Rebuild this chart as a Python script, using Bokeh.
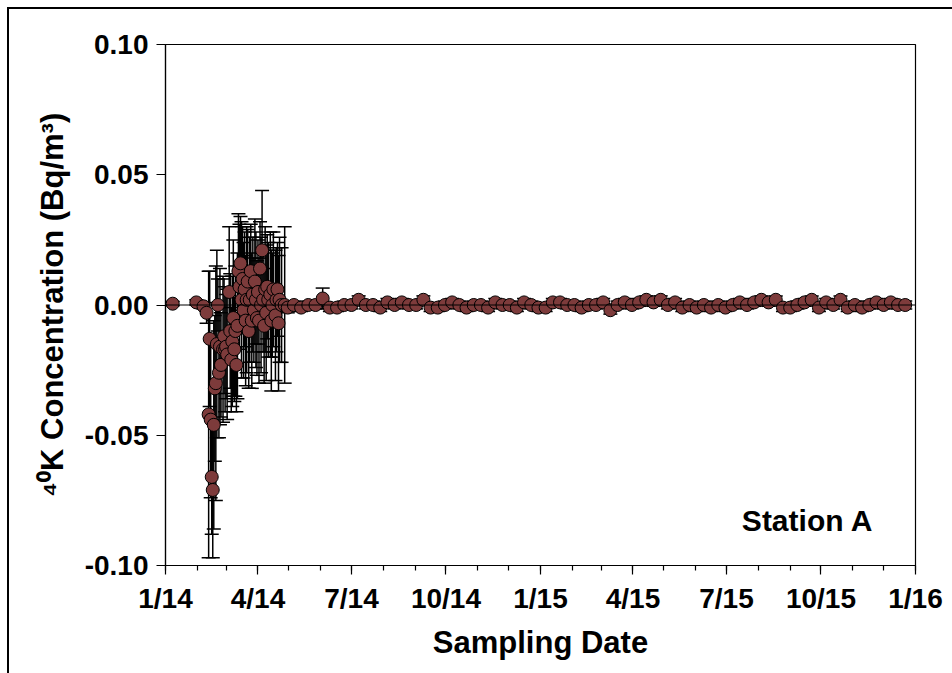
import pandas as pd
from bokeh.plotting import figure
from bokeh.models import (ColumnDataSource, Whisker, TeeHead, Span, Label,
                          FixedTicker, DatetimeTickFormatter, Range1d)
from bokeh.embed import file_html
from bokeh.resources import INLINE

# ---------------- data ----------------
cluster_dates = [
    "2014-01-08", "2014-01-31", "2014-02-07", "2014-02-10", "2014-02-12", "2014-02-13",
    "2014-02-14", "2014-02-15", "2014-02-16", "2014-02-17", "2014-02-18", "2014-02-19",
    "2014-02-20", "2014-02-21", "2014-02-22", "2014-02-23", "2014-02-24", "2014-02-26",
    "2014-02-27", "2014-02-28", "2014-03-01", "2014-03-02", "2014-03-04", "2014-03-05",
    "2014-03-06", "2014-03-07", "2014-03-08", "2014-03-09", "2014-03-10", "2014-03-11",
    "2014-03-12", "2014-03-13", "2014-03-14", "2014-03-15", "2014-03-16", "2014-03-17",
    "2014-03-18", "2014-03-19", "2014-03-20", "2014-03-21", "2014-03-22", "2014-03-23",
    "2014-03-24", "2014-03-25", "2014-03-26", "2014-03-27", "2014-03-28", "2014-03-29",
    "2014-03-30", "2014-03-31", "2014-04-01", "2014-04-02", "2014-04-03", "2014-04-04",
    "2014-04-05", "2014-04-06", "2014-04-07", "2014-04-08", "2014-04-09", "2014-04-10",
    "2014-04-11", "2014-04-13", "2014-04-14", "2014-04-15", "2014-04-16", "2014-04-18",
    "2014-04-19", "2014-04-20", "2014-04-21", "2014-04-22", "2014-04-24", "2014-04-27",
    "2014-04-30",
]
cluster_values = [
    0.0005, 0.001, -0.0005, -0.003, -0.042, -0.013,
    -0.044, -0.066, -0.071, -0.046, -0.032, -0.030,
    -0.015, 0.000, -0.026, -0.016, -0.023, -0.017,
    -0.012, -0.017, -0.016, -0.019, 0.005, -0.010,
    -0.021, -0.014, -0.005, -0.017, -0.010, -0.023,
    -0.008, 0.013, 0.007, 0.016, 0.002, 0.010,
    -0.002, 0.006, -0.006, 0.002, 0.009, -0.010,
    0.002, 0.013, -0.006, 0.004, -0.002, 0.009,
    0.002, -0.005, 0.005, -0.006, 0.014, 0.000,
    0.021, 0.002, -0.008, 0.006, -0.003, 0.007,
    0.002, 0.004, -0.006, 0.000, 0.006, -0.004,
    0.002, 0.006, -0.007, 0.002, 0.000, 0.000,
    -0.001,
]
cluster_errors = [
    0.0008, 0.001, 0.001, 0.004, 0.055, 0.026,
    0.030, 0.022, 0.026, 0.040, 0.028, 0.045,
    0.036, 0.010, 0.025, 0.030, 0.020, 0.028,
    0.022, 0.024, 0.020, 0.025, 0.025, 0.022,
    0.020, 0.025, 0.030, 0.020, 0.025, 0.018,
    0.028, 0.022, 0.024, 0.018, 0.030, 0.020,
    0.026, 0.022, 0.025, 0.028, 0.020, 0.022,
    0.024, 0.018, 0.026, 0.022, 0.020, 0.024,
    0.026, 0.022, 0.020, 0.024, 0.018, 0.026,
    0.023, 0.020, 0.022, 0.024, 0.026, 0.020,
    0.022, 0.024, 0.027, 0.020, 0.022, 0.025,
    0.020, 0.018, 0.026, 0.024, 0.022, 0.030,
    0.002,
]

weekly_dates = [
    "2014-05-06", "2014-05-13", "2014-05-20", "2014-05-27", "2014-06-03", "2014-06-10",
    "2014-06-17", "2014-06-24", "2014-07-01", "2014-07-08", "2014-07-15", "2014-07-22",
    "2014-07-29", "2014-08-05", "2014-08-12", "2014-08-19", "2014-08-26", "2014-09-02",
    "2014-09-09", "2014-09-16", "2014-09-23", "2014-09-30", "2014-10-07", "2014-10-14",
    "2014-10-21", "2014-10-28", "2014-11-04", "2014-11-11", "2014-11-18", "2014-11-25",
    "2014-12-02", "2014-12-09", "2014-12-16", "2014-12-23", "2014-12-30",
    "2015-01-06", "2015-01-13", "2015-01-20", "2015-01-27", "2015-02-03", "2015-02-10",
    "2015-02-17", "2015-02-24", "2015-03-03", "2015-03-10", "2015-03-17", "2015-03-24",
    "2015-03-31", "2015-04-07", "2015-04-14", "2015-04-21", "2015-04-28", "2015-05-05",
    "2015-05-12", "2015-05-19", "2015-05-26", "2015-06-02", "2015-06-09", "2015-06-16",
    "2015-06-23", "2015-06-30", "2015-07-07", "2015-07-14", "2015-07-21", "2015-07-28",
    "2015-08-04", "2015-08-11", "2015-08-18", "2015-08-25", "2015-09-01", "2015-09-08",
    "2015-09-15", "2015-09-22", "2015-09-29", "2015-10-06", "2015-10-13", "2015-10-20",
    "2015-10-27", "2015-11-03", "2015-11-10", "2015-11-17", "2015-11-24", "2015-12-01",
    "2015-12-08", "2015-12-15", "2015-12-22",
]
weekly_values = [
    0.000, -0.001, 0.000, 0.000, 0.0025, -0.001,
    -0.001, 0.000, 0.000, 0.002, 0.000, 0.000,
    -0.001, 0.001, 0.000, 0.001, 0.000, 0.000,
    0.002, -0.001, -0.001, 0.000, 0.001, 0.000,
    -0.001, 0.000, 0.000, -0.001, 0.001, 0.000,
    0.000, -0.001, 0.001, 0.000, -0.001,
    -0.001, 0.001, 0.001, 0.000, 0.000, -0.001,
    0.000, 0.000, 0.001, -0.002, 0.000, 0.001,
    0.000, 0.001, 0.002, 0.001, 0.002, 0.000,
    0.001, -0.001, 0.000, -0.001, 0.000, -0.001,
    0.000, -0.001, 0.000, 0.001, 0.000, 0.001,
    0.002, 0.001, 0.002, -0.001, -0.001, 0.000,
    0.001, 0.002, -0.001, 0.001, 0.000, 0.002,
    -0.001, 0.000, -0.001, 0.000, 0.001, 0.000,
    0.001, 0.000, 0.000,
]
weekly_errors = [
    0.0015, 0.0015, 0.0015, 0.0015, 0.004, 0.0015,
    0.0015, 0.0015, 0.0015, 0.0015, 0.0015, 0.0015,
    0.0015, 0.0015, 0.0015, 0.0015, 0.0015, 0.0015,
    0.0015, 0.0015, 0.0015, 0.0015, 0.0015, 0.0015,
    0.0015, 0.0015, 0.0015, 0.0015, 0.0015, 0.0015,
    0.0015, 0.0015, 0.0015, 0.0015, 0.0015,
    0.0015, 0.0015, 0.0015, 0.0015, 0.0015, 0.0015,
    0.0015, 0.0015, 0.0015, 0.0015, 0.0015, 0.0015,
    0.0015, 0.0015, 0.0015, 0.0015, 0.0015, 0.0015,
    0.0015, 0.0015, 0.0015, 0.0015, 0.0015, 0.0015,
    0.0015, 0.0015, 0.0015, 0.0015, 0.0015, 0.0015,
    0.0015, 0.0015, 0.0015, 0.0015, 0.0015, 0.0015,
    0.0015, 0.0015, 0.0015, 0.0015, 0.0015, 0.0015,
    0.0015, 0.0015, 0.0015, 0.0015, 0.0015, 0.0015,
    0.0015, 0.0015, 0.0015,
]

x_tick_dates = ["2014-01-01", "2014-04-01", "2014-07-01", "2014-10-01", "2015-01-01",
                "2015-04-01", "2015-07-01", "2015-10-01", "2016-01-01"]
y_ticks = [-0.10, -0.05, 0.00, 0.05, 0.10]
y_tick_labels = ["-0.10", "-0.05", "0.00", "0.05", "0.10"]

# ---------------- build ----------------
dates = pd.to_datetime(cluster_dates + weekly_dates)
vals = cluster_values + weekly_values
errs = cluster_errors + weekly_errors
src = ColumnDataSource(dict(
    x=dates, y=vals,
    upper=[v + e for v, e in zip(vals, errs)],
    lower=[v - e for v, e in zip(vals, errs)],
))

FONT = "Liberation Sans"
BROWN = "#7d3b3b"

p = figure(width=945, height=666, x_axis_type="datetime",
           output_backend="svg", toolbar_location=None,
           min_border_left=156, min_border_right=39,
           min_border_top=35, min_border_bottom=110)
p.styles = {"margin-left": "7px", "margin-top": "7px",
            "border-left": "2px solid black", "border-top": "2px solid black"}

p.x_range = Range1d(pd.Timestamp("2014-01-01"), pd.Timestamp("2016-01-01"))
p.y_range = Range1d(-0.10, 0.10)

p.xgrid.visible = False
p.ygrid.visible = False
p.outline_line_color = "black"
p.outline_line_width = 1.2

p.add_layout(Span(location=0, dimension="width", line_color="black", line_width=1.2))

wh = Whisker(base="x", upper="upper", lower="lower", source=src, dimension="height",
             line_color="black", line_width=1.5,
             upper_head=TeeHead(size=14, line_color="black", line_width=1.5),
             lower_head=TeeHead(size=14, line_color="black", line_width=1.5))
p.add_layout(wh)

p.scatter("x", "y", source=src, size=13, fill_color=BROWN, line_color="black",
          line_width=1)

tick_ms = [pd.Timestamp(d).value // 10**6 for d in x_tick_dates]
minor_ms = [pd.Timestamp(d).value // 10**6
            for d in pd.date_range("2014-01-01", "2016-01-01", freq="MS")]
p.xaxis.ticker = FixedTicker(ticks=tick_ms, minor_ticks=minor_ms)
p.xaxis.formatter = DatetimeTickFormatter(months="%-m/%y", days="%-m/%y",
                                          years="%-m/%y")
p.yaxis.ticker = FixedTicker(ticks=y_ticks, minor_ticks=[])
p.yaxis.major_label_overrides = {t: l for t, l in zip(y_ticks, y_tick_labels)}

for ax in (p.xaxis[0], p.yaxis[0]):
    ax.axis_line_color = "black"
    ax.axis_line_width = 1.2
    ax.major_tick_line_color = "black"
    ax.major_tick_line_width = 1.2
    ax.minor_tick_line_color = "black"
    ax.minor_tick_line_width = 1.2
    ax.major_tick_in = 0
    ax.minor_tick_in = 0
    ax.major_label_text_font = FONT
    ax.major_label_text_font_style = "bold"
    ax.major_label_text_font_size = "28px"
    ax.major_label_text_color = "black"
    ax.axis_label_text_font = FONT
    ax.axis_label_text_font_style = "bold"
    ax.axis_label_text_font_size = "31px"
    ax.axis_label_text_color = "black"

p.xaxis.major_tick_out = 9
p.xaxis.minor_tick_out = 5
p.yaxis.major_tick_out = 9
p.yaxis.minor_tick_out = 0
p.xaxis.major_label_standoff = 8
p.yaxis.major_label_standoff = 8
p.xaxis.axis_label = "Sampling Date"
p.xaxis.axis_label_standoff = 8
p.yaxis.axis_label = "\u2074\u2070K Concentration (Bq/m\u00b3)"
p.yaxis.axis_label_standoff = 12

p.add_layout(Label(x=pd.Timestamp("2015-07-16"), y=-0.0826, text="Station A",
                   text_font=FONT, text_font_style="bold", text_font_size="30px",
                   text_baseline="middle", text_color="black"))

open("out.html", "w").write(file_html(p, INLINE))
